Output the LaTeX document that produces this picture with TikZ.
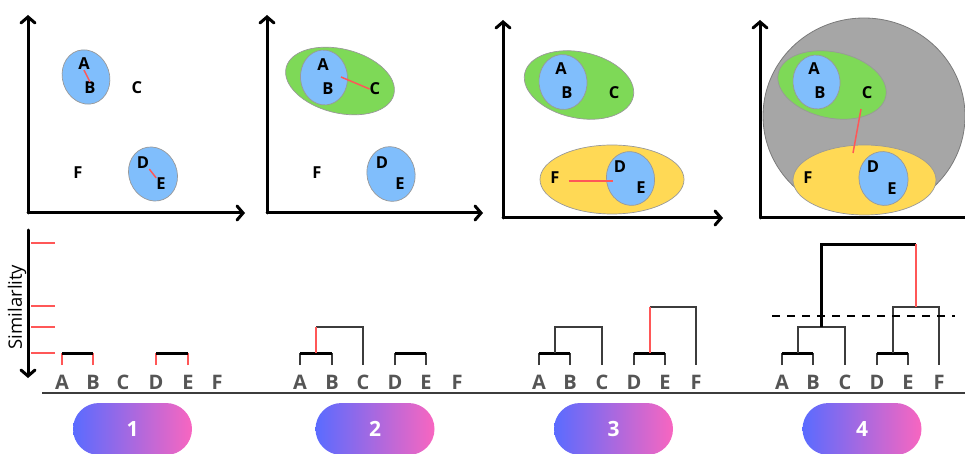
\documentclass[tikz,border=0pt]{standalone}
\usepackage{fontspec}
\setmainfont{Open Sans}
\usetikzlibrary{arrows.meta,calc}
\definecolor{blueC}{HTML}{80BEFC}
\definecolor{greenC}{HTML}{7ED957}
\definecolor{yellowC}{HTML}{FFD955}
\definecolor{grayC}{HTML}{A6A6A6}
\definecolor{grayE}{HTML}{7A7A7A}
\definecolor{redC}{HTML}{FF5757}
\definecolor{leafC}{HTML}{555555}
\definecolor{joinC}{HTML}{3C3C3C}
\definecolor{pillL}{HTML}{5A6BFF}
\definecolor{pillR}{HTML}{F866C0}
\tikzset{
  axisline/.style={line width=3pt,line cap=round,-{Straight Barb[length=6pt,width=14pt,line cap=round]}},
  blob/.style={fill=#1,draw=gray!80,line width=0.7pt},
  pt/.style={font=\fontsize{16.5}{16.5}\selectfont\bfseries,inner sep=0pt},
  leaf/.style={font=\fontsize{20}{20}\selectfont\bfseries,text=leafC,inner sep=0pt},
  redlink/.style={draw=redC,line width=1.5pt},
  bar/.style={line width=3pt,black},
  leg/.style={line width=2pt,joinC},
  joinln/.style={line width=2pt,joinC},
  pill/.style={rounded corners=26pt,minimum width=119pt,minimum height=52pt,left color=pillL,right color=pillR,
    text=white,font=\fontsize{21}{21}\selectfont\bfseries,inner sep=0pt},
  tick/.style={redC,line width=1.5pt}
}
\begin{document}
\begin{tikzpicture}[x=1pt,y=-1pt]
\useasboundingbox (0,0) rectangle (965,454);
% ---------- panel 1 (top) ----------
\draw[axisline] (28,213) -- (28,15);
\draw[axisline] (28,213) -- (245,213);
\draw[blob=blueC,rotate around={18:(86,77)}] (86,77) ellipse [x radius=23.5,y radius=27.5];
\draw[blob=blueC,rotate around={22:(153,174)}] (153,174) ellipse [x radius=24,y radius=27.5];
\node[pt] (a1) at (84,64) {A};
\node[pt] (b1) at (90,88) {B};
\node[pt] (c1) at (137,88) {C};
\node[pt] (d1) at (143,163) {D};
\node[pt] (e1) at (161,184) {E};
\node[pt] (f1) at (78,173) {F};
\draw[redlink] (a1.south) -- (b1.north);
\draw[redlink] (d1.south east) -- (e1.north west);
% ---------- panel 2 (top) ----------
\draw[axisline] (267,213) -- (267,15);
\draw[axisline] (267,213) -- (483,213);
\draw[blob=greenC,rotate around={-14:(340,81)}] (340,81) ellipse [x radius=55.5,y radius=32];
\draw[blob=blueC,rotate around={5:(324,77.5)}] (324,77.5) ellipse [x radius=23.5,y radius=27.5];
\draw[blob=blueC,rotate around={12:(391,174)}] (391,174) ellipse [x radius=24,y radius=27.5];
\node[pt] (a2) at (323,65) {A};
\node[pt] (b2) at (328,89) {B};
\node[pt] (c2) at (375,89) {C};
\node[pt] (d2) at (382,163) {D};
\node[pt] (e2) at (400,184) {E};
\node[pt] (f2) at (317,173) {F};
\coordinate (m2) at (341,77);
\draw[redlink] (m2) -- (c2.west);
% ---------- panel 3 (top) ----------
\draw[axisline] (503,218) -- (503,20);
\draw[axisline] (503,218) -- (723,218);
\draw[blob=greenC,rotate around={-12:(579,85)}] (579,85) ellipse [x radius=55.5,y radius=33];
\draw[blob=blueC,rotate around={5:(563,82)}] (563,82) ellipse [x radius=24,y radius=27.5];
\draw[blob=yellowC] (612,179.5) ellipse [x radius=72,y radius=34.5];
\draw[blob=blueC,rotate around={10:(630.5,178.5)}] (630.5,178.5) ellipse [x radius=24,y radius=27];
\node[pt] (a3) at (561,69) {A};
\node[pt] (b3) at (567,93) {B};
\node[pt] (c3) at (614,93) {C};
\node[pt] (d3) at (620,167) {D};
\node[pt] (e3) at (641,188) {E};
\node[pt] (f3) at (555,178) {F};
\coordinate (m3) at (613,181);
\draw[redlink] ([xshift=9pt,yshift=-3pt]f3.east) -- (m3);
% ---------- panel 4 (top) ----------
\draw[grayE,fill=grayC,line width=0.8pt] (864,116) ellipse [x radius=101,y radius=98];
\draw[blob=greenC,rotate around={-12:(832,85)}] (832,85) ellipse [x radius=55,y radius=33];
\draw[blob=blueC,rotate around={5:(816.5,82)}] (816.5,82) ellipse [x radius=23.5,y radius=27];
\draw[blob=yellowC] (864.5,180) ellipse [x radius=71.5,y radius=35];
\draw[blob=blueC,rotate around={10:(883.5,178.5)}] (883.5,178.5) ellipse [x radius=24.5,y radius=27];
\draw[axisline] (760,218) -- (760,20);
\draw[line width=3pt] (760,218) -- (966,218);
\node[pt] (a4) at (814,69) {A};
\node[pt] (b4) at (820,93) {B};
\node[pt] (c4) at (867,93) {C};
\node[pt] (d4) at (873,167) {D};
\node[pt] (e4) at (892,189) {E};
\node[pt] (f4) at (808,178) {F};
\coordinate (g4) at (861,109);
\coordinate (y4) at (853,153);
\draw[redlink] (g4) -- (y4);
% ---------- similarity axis ----------
\draw[line width=3pt,line cap=round,-{Straight Barb[length=6pt,width=14pt,line cap=round]}] (28,230) -- (28,378);
\node[rotate=90,font=\fontsize{18.5}{18.5}\selectfont,inner sep=0pt] (sim) at (17,307) {Similarlity};
\foreach \yy in {243,306,327,353} \draw[tick] (31,\yy) -- (55,\yy);
% level coordinates
\coordinate (L0) at (0,365);
\coordinate (L1) at (0,353);
\coordinate (L2) at (0,327);
\coordinate (L3) at (0,307);
\coordinate (L4) at (0,244);
% baseline
\draw[line width=2pt,joinC] (42,393) -- (965,393);
% ---------- dendrogram 1 ----------
\foreach \n/\x in {A/62,B/93,C/123,D/156,E/188,F/217} \node[leaf] (p1\n) at (\x,382) {\n};
\draw[redlink] (p1A |- L0) -- (p1A |- L1);
\draw[redlink] (p1B |- L0) -- (p1B |- L1);
\draw[redlink] (p1D |- L0) -- (p1D |- L1);
\draw[redlink] (p1E |- L0) -- (p1E |- L1);
\draw[bar] (p1A |- L1) -- (p1B |- L1);
\draw[bar] (p1D |- L1) -- (p1E |- L1);
% ---------- dendrogram 2 ----------
\foreach \n/\x in {A/300,B/332,C/363,D/395,E/426,F/457} \node[leaf] (p2\n) at (\x,382) {\n};
\draw[leg] (p2A |- L0) -- (p2A |- L1);
\draw[leg] (p2B |- L0) -- (p2B |- L1);
\draw[leg] (p2D |- L0) -- (p2D |- L1);
\draw[leg] (p2E |- L0) -- (p2E |- L1);
\draw[bar] (p2A |- L1) -- (p2B |- L1);
\draw[bar] (p2D |- L1) -- (p2E |- L1);
\coordinate (q2) at ($(p2A)!0.5!(p2B)$);
\draw[joinln] (q2 |- L2) -- (p2C |- L2) -- (p2C |- L0);
\draw[redlink,line width=2pt] (q2 |- L1) -- (q2 |- L2);
% ---------- dendrogram 3 ----------
\foreach \n/\x in {A/539,B/570,C/602,D/634,E/665,F/696} \node[leaf] (p3\n) at (\x,382) {\n};
\draw[leg] (p3A |- L0) -- (p3A |- L1);
\draw[leg] (p3B |- L0) -- (p3B |- L1);
\draw[leg] (p3D |- L0) -- (p3D |- L1);
\draw[leg] (p3E |- L0) -- (p3E |- L1);
\draw[bar] (p3A |- L1) -- (p3B |- L1);
\draw[bar] (p3D |- L1) -- (p3E |- L1);
\coordinate (q3) at ($(p3A)!0.5!(p3B)$);
\coordinate (r3) at ($(p3D)!0.5!(p3E)$);
\draw[joinln] (q3 |- L1) -- (q3 |- L2) -- (p3C |- L2) -- (p3C |- L0);
\draw[joinln] (r3 |- L3) -- (p3F |- L3) -- (p3F |- L0);
\draw[redlink,line width=2pt] (r3 |- L1) -- (r3 |- L3);
% ---------- dendrogram 4 ----------
\foreach \n/\x in {A/782,B/813,C/845,D/877,E/908,F/939} \node[leaf] (p4\n) at (\x,382) {\n};
\draw[leg] (p4A |- L0) -- (p4A |- L1);
\draw[leg] (p4B |- L0) -- (p4B |- L1);
\draw[leg] (p4D |- L0) -- (p4D |- L1);
\draw[leg] (p4E |- L0) -- (p4E |- L1);
\draw[bar] (p4A |- L1) -- (p4B |- L1);
\draw[bar] (p4D |- L1) -- (p4E |- L1);
\coordinate (q4) at ($(p4A)!0.5!(p4B)$);
\coordinate (r4) at ($(p4D)!0.5!(p4E)$);
\coordinate (s4) at ($(q4)!0.5!(p4C)$);
\coordinate (t4) at ($(r4)!0.5!(p4F)$);
\draw[joinln] (q4 |- L1) -- (q4 |- L2) -- (p4C |- L2) -- (p4C |- L0);
\draw[joinln] (r4 |- L1) -- (r4 |- L3) -- (p4F |- L3) -- (p4F |- L0);
\draw[line width=3pt] (s4 |- L2) -- (s4 |- L4) -- (t4 |- L4);
\draw[redlink,line width=2pt] (t4 |- L4) -- (t4 |- L3);
\coordinate (dl) at (772,316);
\coordinate (dr) at (955,316);
\draw[line width=1.5pt,dash pattern=on 8pt off 7pt] (dl) -- (dr);
% ---------- pills ----------
\node[pill] (n1) at (132.5,429) {1};
\node[pill] (n2) at (375,429) {2};
\node[pill] (n3) at (613.5,429) {3};
\node[pill] (n4) at (862,429) {4};
\end{tikzpicture}
\end{document}
